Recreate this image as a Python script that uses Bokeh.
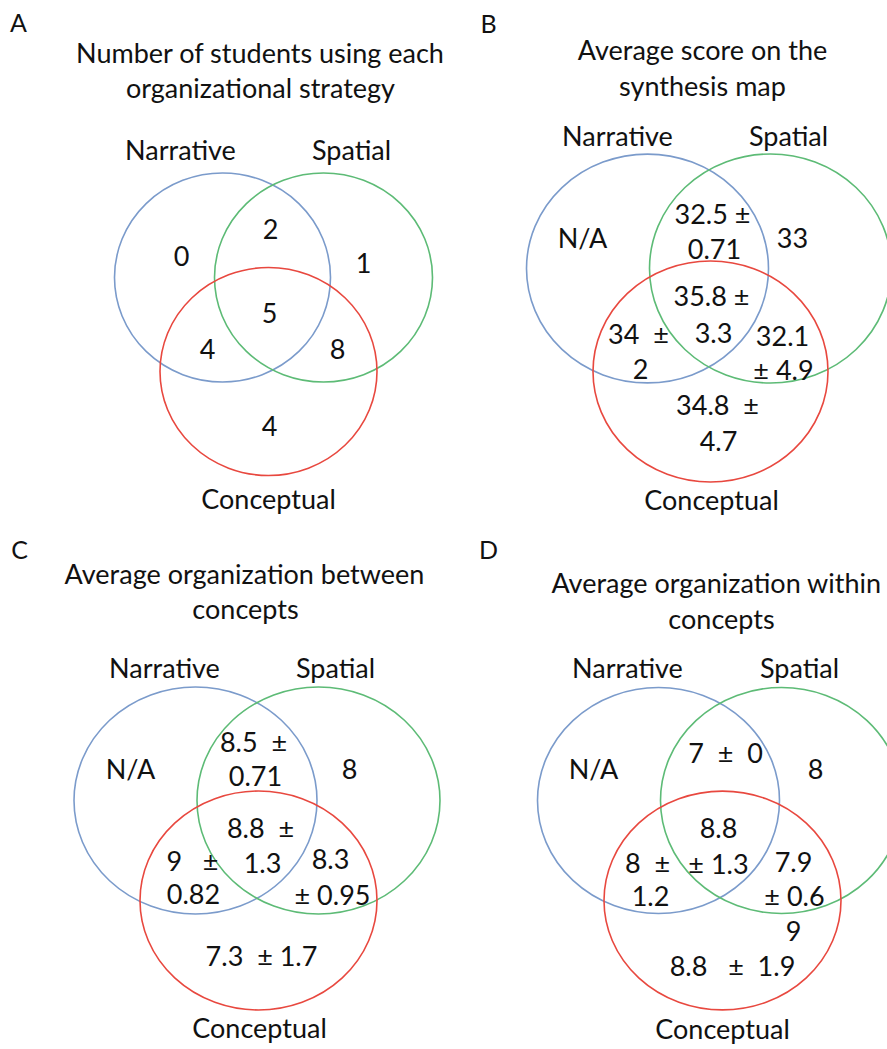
from bokeh.plotting import figure
from bokeh.models import Range1d
from bokeh.core.properties import value
from bokeh.embed import file_html
from bokeh.resources import INLINE

# ---- data -------------------------------------------------------------
SETS = ["Narrative", "Spatial", "Conceptual"]
REGIONS = ["N", "NS", "S", "NSC", "NC", "SC", "C"]

students = [0, 2, 1, 5, 4, 8, 4]

score_mean = [None, 32.5, 33, 35.8, 34, 32.1, 34.8]
score_sd = [None, 0.71, None, 3.3, 2, 4.9, 4.7]

between_mean = [None, 8.5, 8, 8.8, 9, 8.3, 7.3]
between_sd = [None, 0.71, None, 1.3, 0.82, 0.95, 1.7]

within_mean = [None, 7, 8, 8.8, 8, 7.9, 8.8]
within_sd = [None, 0, None, 1.3, 1.2, 0.6, 1.9]
within_notes = ["9"]

TITLES = [
    ["Number of students using each", "organizational strategy"],
    ["Average score on the", "synthesis map"],
    ["Average organization between", "concepts"],
    ["Average organization within", "concepts"],
]
LETTERS = ["A", "B", "C", "D"]

# ---- styling ----------------------------------------------------------
FONT = value("Lato")
SET_COLORS = ["#7b9bcb", "#5dbb76", "#e8483f"]
W, H = 887, 1049
PM = "\u00b1"
SP = "\u00a0"  # non-collapsing space for wider gaps


def fmt(v):
    return "N/A" if v is None else f"{v:g}"


def panel_texts(means, sds, layout):
    xs, ys, ts = [], [], []
    for r, m, s in zip(REGIONS, means, sds):
        for x, y, tpl in layout[r]:
            xs.append(x)
            ys.append(y)
            ts.append("N/A" if m is None
                      else tpl.format(m=fmt(m), s=fmt(s), pm=PM, sp=SP))
    return xs, ys, ts


# panel geometry: letter, title lines, set labels, circles (cx, cy, w, h)
PANELS = [
    dict(letter=(18, 21), title=[(260, 52), (260, 87)],
         labels=[(180, 149), (351, 149), (268, 498)],
         circles=[(222, 277, 216, 209), (323, 277, 218, 209), (268, 371, 217, 208)]),
    dict(letter=(488, 22), title=[(702, 49), (702, 85)],
         labels=[(617, 135), (788, 135), (711, 499)],
         circles=[(647, 268, 242, 229), (770, 268, 242, 229), (710, 371, 235, 221)]),
    dict(letter=(19, 548), title=[(244, 573), (245, 608)],
         labels=[(164, 667), (335, 667), (259, 1027)],
         circles=[(195, 800, 243, 227), (318, 800, 243, 227), (258, 900, 237, 219)]),
    dict(letter=(488, 548), title=[(716, 582), (721, 618)],
         labels=[(627, 667), (799, 667), (722, 1028)],
         circles=[(658, 800, 242, 226), (781, 800, 242, 226), (722, 900, 237, 219)]),
]

LAYOUT_A = {
    "N": [(181, 255, "{m}")], "NS": [(270, 228, "{m}")], "S": [(363, 262, "{m}")],
    "NSC": [(269, 312, "{m}")], "NC": [(207, 348, "{m}")], "SC": [(337, 348, "{m}")],
    "C": [(269, 425, "{m}")],
}
LAYOUT_B = {
    "N": [(582, 237, "")],
    "NS": [(712, 213, "{m} {pm}"), (714, 248, "{s}")],
    "S": [(792, 237, "{m}")],
    "NSC": [(711, 295, "{m} {pm}"), (713, 332, "{s}")],
    "NC": [(638, 333, "{m}{sp}{sp}{pm}"), (640, 368, "{s}")],
    "SC": [(782, 335, "{m}"), (783, 369, "{pm} {s}")],
    "C": [(717, 404, "{m}{sp}{sp}{pm}"), (718, 440, "{s}")],
}
LAYOUT_C = {
    "N": [(130, 768, "")],
    "NS": [(253, 741, "{m}{sp}{sp}{pm}"), (255, 775, "{s}")],
    "S": [(349, 768, "{m}")],
    "NSC": [(260, 827, "{m}{sp}{sp}{pm}"), (262, 862, "{s}")],
    "NC": [(192, 860, "{m}{sp}{sp}{sp}{pm}"), (193, 893, "{s}")],
    "SC": [(330, 858, "{m}"), (332, 894, "{pm} {s}")],
    "C": [(261, 955, "{m}{sp}{sp}{pm} {s}")],
}
LAYOUT_D = {
    "N": [(593, 768, "")],
    "NS": [(725, 752, "{m}{sp}{sp}{pm}{sp}{sp}{s}")],
    "S": [(815, 768, "{m}")],
    "NSC": [(718, 827, "{m}"), (718, 863, "{pm} {s}")],
    "NC": [(647, 862, "{m}{sp}{sp}{pm}"), (650, 895, "{s}")],
    "SC": [(793, 861, "{m}"), (794, 895, "{pm} {s}")],
    "C": [(732, 965, "{m}{sp}{sp}{sp}{pm}{sp}{sp}{s}")],
}
NOTE_POS_D = [(793, 930)]

p = figure(width=W, height=H, x_range=Range1d(0, W), y_range=Range1d(H, 0),
           output_backend="svg", toolbar_location=None, min_border=0)
p.axis.visible = False
p.grid.visible = False
p.outline_line_color = None
p.background_fill_color = "white"
p.border_fill_color = "white"

TXT = dict(text_align="center", text_baseline="middle", text_font=FONT,
           text_color="#111111")
SIZE = "27px"

for i, pan in enumerate(PANELS):
    cx = [c[0] for c in pan["circles"]]
    cy = [c[1] for c in pan["circles"]]
    cw = [c[2] for c in pan["circles"]]
    ch = [c[3] for c in pan["circles"]]
    p.ellipse(x=cx, y=cy, width=cw, height=ch, fill_color=None,
              line_color=SET_COLORS, line_width=1.6)
    p.text(x=[pan["letter"][0]], y=[pan["letter"][1]], text=[LETTERS[i]],
           text_font_size="25px", **TXT)
    p.text(x=[t[0] for t in pan["title"]], y=[t[1] for t in pan["title"]],
           text=TITLES[i], text_font_size=SIZE, **TXT)
    p.text(x=[l[0] for l in pan["labels"]], y=[l[1] for l in pan["labels"]],
           text=SETS, text_font_size=SIZE, **TXT)

for means, sds, lay in [
    (students, [None] * 7, LAYOUT_A),
    (score_mean, score_sd, LAYOUT_B),
    (between_mean, between_sd, LAYOUT_C),
    (within_mean, within_sd, LAYOUT_D),
]:
    xs, ys, ts = panel_texts(means, sds, lay)
    p.text(x=xs, y=ys, text=ts, text_font_size=SIZE, **TXT)

p.text(x=[q[0] for q in NOTE_POS_D], y=[q[1] for q in NOTE_POS_D],
       text=within_notes, text_font_size=SIZE, **TXT)

open("out.html", "w").write(file_html(p, INLINE))
